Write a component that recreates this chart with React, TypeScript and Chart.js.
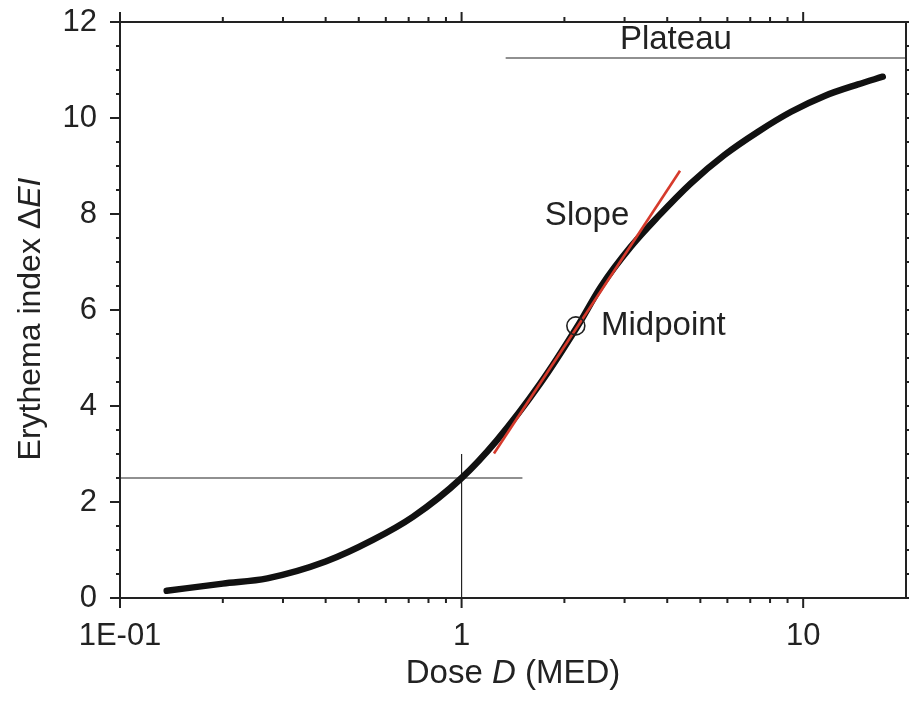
import React, { useEffect, useRef } from 'react';
import Chart from 'chart.js/auto';

// ---- Data ----
const doseValues = [0.137, 0.2, 0.27, 0.4, 0.55, 0.72, 1.0, 1.27, 1.7, 2.18, 2.56, 3.13, 3.75, 4.69, 5.88, 7.36, 9.22, 11.55, 14.47, 17.1];
const erythemaValues = [0.15, 0.3, 0.41, 0.76, 1.21, 1.69, 2.5, 3.29, 4.47, 5.65, 6.49, 7.32, 7.94, 8.64, 9.23, 9.71, 10.13, 10.46, 10.7, 10.86];

const slopeDose = [1.244, 4.36];
const slopeValues = [3.01, 8.9];

const crossHDose = [0.1, 1.507];
const crossHValues = [2.5, 2.5];
const crossVDose = [1, 1];
const crossVValues = [0, 3.0];

const plateauDose = [1.346, 20];
const plateauValues = [11.25, 11.25];

const midpointDose = [2.16];
const midpointValues = [5.67];

const xMajorTicks = [0.1, 1, 10];
const xTickLabels = ['1E-01', '1', '10'];
const xMinorTicks = [0.2, 0.3, 0.4, 0.5, 0.6, 0.7, 0.8, 0.9, 2, 3, 4, 5, 6, 7, 8, 9];
const yMajorTicks = [0, 2, 4, 6, 8, 10, 12];
const yTickLabels = ['0', '2', '4', '6', '8', '10', '12'];
const yMinorTicks = [0.5, 1, 1.5, 2.5, 3, 3.5, 4.5, 5, 5.5, 6.5, 7, 7.5, 8.5, 9, 9.5, 10.5, 11, 11.5];

// annotation texts: [dose, value]
const plateauLabel = { text: 'Plateau', x: 4.24, y: 11.63 };
const slopeLabel = { text: 'Slope', x: 2.33, y: 7.96 };
const midpointLabel = { text: 'Midpoint', x: 2.56, y: 5.67 };

const FONT = "'Liberation Sans', Arial, Helvetica, sans-serif";
const INK = '#222222';
const TEXT_SIZE = 33;

const pts = (xs: number[], ys: number[]) => xs.map((x, i) => ({ x, y: ys[i] }));

function drawMixed(ctx: CanvasRenderingContext2D, parts: { t: string; italic?: boolean }[], size: number) {
  const widths = parts.map((p) => {
    ctx.font = `${p.italic ? 'italic ' : ''}${size}px ${FONT}`;
    return ctx.measureText(p.t).width;
  });
  const total = widths.reduce((a, b) => a + b, 0);
  let x = -total / 2;
  parts.forEach((p, i) => {
    ctx.font = `${p.italic ? 'italic ' : ''}${size}px ${FONT}`;
    ctx.fillText(p.t, x, 0);
    x += widths[i];
  });
}

const framePlugin = {
  id: 'frameAndText',
  afterDatasetsDraw(chart: any) {
    const { ctx, chartArea: a, scales } = chart;
    const xs = scales.x;
    const ys = scales.y;
    ctx.save();
    ctx.strokeStyle = INK;
    ctx.lineWidth = 2;
    ctx.strokeRect(a.left, a.top, a.right - a.left, a.bottom - a.top);
    ctx.beginPath();
    const tick = (x1: number, y1: number, x2: number, y2: number) => {
      ctx.moveTo(x1, y1);
      ctx.lineTo(x2, y2);
    };
    xMajorTicks.forEach((v) => {
      const p = xs.getPixelForValue(v);
      tick(p, a.bottom, p, a.bottom + 10);
      tick(p, a.top, p, a.top - 10);
    });
    xMinorTicks.forEach((v) => {
      const p = xs.getPixelForValue(v);
      tick(p, a.bottom, p, a.bottom + 5);
      tick(p, a.top, p, a.top - 5);
    });
    yMajorTicks.forEach((v) => {
      const p = ys.getPixelForValue(v);
      tick(a.left, p, a.left - 10, p);
      tick(a.right, p, a.right + 10, p);
    });
    yMinorTicks.forEach((v) => {
      const p = ys.getPixelForValue(v);
      tick(a.left, p, a.left - 4, p);
      tick(a.right, p, a.right + 4, p);
    });
    ctx.stroke();

    // annotation texts
    ctx.fillStyle = INK;
    ctx.textBaseline = 'middle';
    ctx.font = `${TEXT_SIZE}px ${FONT}`;
    ctx.textAlign = 'center';
    ctx.fillText(plateauLabel.text, xs.getPixelForValue(plateauLabel.x), ys.getPixelForValue(plateauLabel.y));
    ctx.fillText(slopeLabel.text, xs.getPixelForValue(slopeLabel.x), ys.getPixelForValue(slopeLabel.y));
    ctx.textAlign = 'left';
    ctx.fillText(midpointLabel.text, xs.getPixelForValue(midpointLabel.x), ys.getPixelForValue(midpointLabel.y));

    // axis titles
    ctx.textAlign = 'left';
    ctx.save();
    ctx.translate((a.left + a.right) / 2, 674);
    drawMixed(ctx, [{ t: 'Dose ' }, { t: 'D', italic: true }, { t: ' (MED)' }], TEXT_SIZE);
    ctx.restore();
    ctx.save();
    ctx.translate(31, (a.top + a.bottom) / 2 + 9);
    ctx.rotate(-Math.PI / 2);
    drawMixed(ctx, [{ t: 'Erythema index \u0394' }, { t: 'EI', italic: true }], 32);
    ctx.restore();
    ctx.restore();
  },
};

const zeroPad = (s: any) => {
  s.paddingTop = 0;
  s.paddingBottom = 0;
  s.paddingLeft = 0;
  s.paddingRight = 0;
};

export default function App() {
  const ref = useRef<HTMLCanvasElement | null>(null);
  useEffect(() => {
    if (!ref.current) return;
    const chart = new Chart(ref.current, {
      type: 'line',
      data: {
        datasets: [
          { label: 'h', order: 3, data: pts(crossHDose, crossHValues), borderColor: INK, borderWidth: 1.2, pointRadius: 0 },
          { label: 'v', order: 3, data: pts(crossVDose, crossVValues), borderColor: INK, borderWidth: 1.2, pointRadius: 0 },
          { label: 'plateau', order: 3, data: pts(plateauDose, plateauValues), borderColor: INK, borderWidth: 1.2, pointRadius: 0 },
          {
            label: 'curve',
            order: 2,
            data: pts(doseValues, erythemaValues),
            borderColor: '#111111',
            borderWidth: 6.5,
            pointRadius: 0,
            cubicInterpolationMode: 'monotone',
            borderCapStyle: 'round',
          },
          { label: 'slope', order: 1, data: pts(slopeDose, slopeValues), borderColor: '#d63a2c', borderWidth: 2.6, pointRadius: 0 },
          {
            label: 'midpoint',
            order: 0,
            data: pts(midpointDose, midpointValues),
            showLine: false,
            pointRadius: 9,
            pointStyle: 'circle',
            pointBorderColor: INK,
            pointBorderWidth: 1.6,
            pointBackgroundColor: 'rgba(0,0,0,0)',
          },
        ],
      } as any,
      options: {
        responsive: false,
        animation: false,
        layout: { autoPadding: false, padding: { top: 22, right: 3, left: 0, bottom: 0 } },
        plugins: { legend: { display: false }, tooltip: { enabled: false } },
        scales: {
          x: {
            type: 'logarithmic',
            position: 'bottom',
            min: 0.1,
            max: 20,
            grid: { display: false, drawTicks: false },
            border: { display: false },
            afterBuildTicks: (s: any) => {
              s.ticks = xMajorTicks.map((v) => ({ value: v }));
            },
            afterFit: (s: any) => {
              s.height = 104;
              zeroPad(s);
            },
            ticks: {
              autoSkip: false,
              maxRotation: 0,
              padding: 20,
              color: INK,
              font: { family: FONT, size: 31 },
              callback: (_v: any, i: number) => xTickLabels[i],
            },
          },
          y: {
            type: 'linear',
            position: 'left',
            min: 0,
            max: 12,
            grid: { display: false, drawTicks: false },
            border: { display: false },
            afterBuildTicks: (s: any) => {
              s.ticks = yMajorTicks.map((v) => ({ value: v }));
            },
            afterFit: (s: any) => {
              s.width = 120;
              zeroPad(s);
            },
            ticks: {
              autoSkip: false,
              padding: 23,
              color: INK,
              font: { family: FONT, size: 31 },
              callback: (_v: any, i: number) => yTickLabels[i],
            },
          },
        },
      } as any,
      plugins: [framePlugin],
    });
    return () => chart.destroy();
  }, []);
  return (
    <div style={{ position: 'absolute', left: 0, top: 0, width: 909, height: 702, background: '#fff' }}>
      <canvas ref={ref} width={909} height={702} style={{ display: 'block' }} />
    </div>
  );
}
